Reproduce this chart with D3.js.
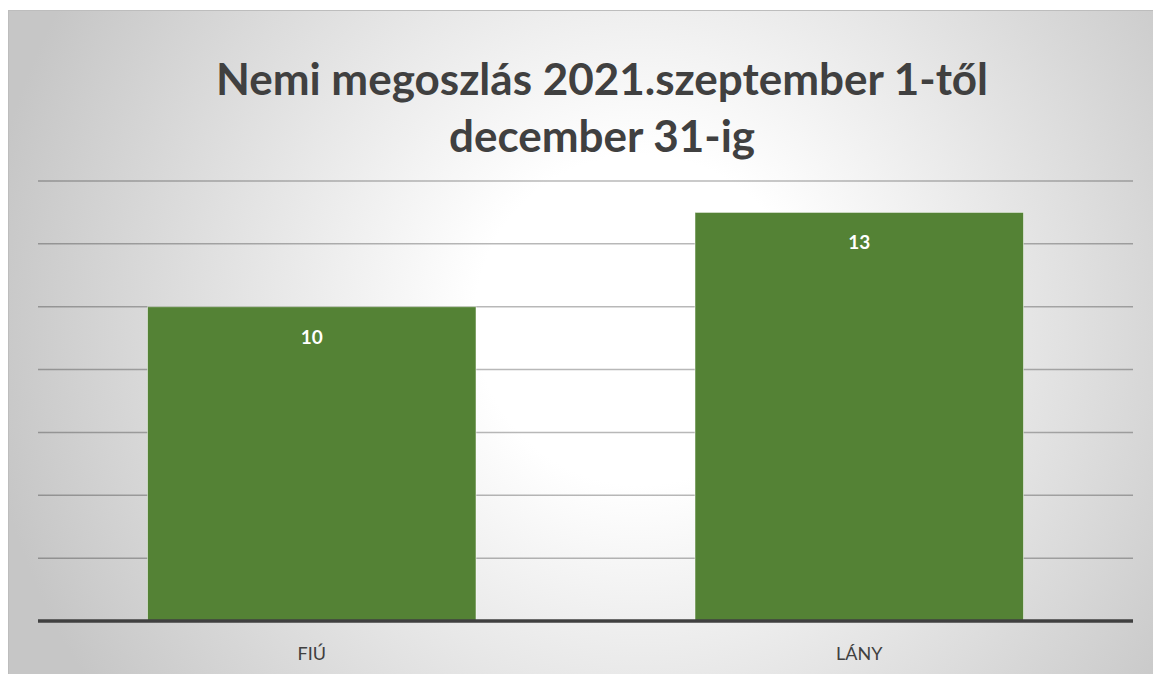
<!DOCTYPE html>
<html>
<head>
<meta charset="utf-8">
<script src="https://cdn.jsdelivr.net/npm/d3@7.9.0/dist/d3.min.js"></script>
<style>
  body { margin: 0; background: #fff; }
  svg { display: block; }
</style>
</head>
<body>
<svg id="chart" width="1153" height="674"></svg>
<script>
const categories = ['FIÚ', 'LÁNY'];
const values = [10, 13];
const yTicks = [0, 2, 4, 6, 8, 10, 12, 14];
const titleLines = ['Nemi megoszlás 2021.szeptember 1-től', 'december 31-ig'];

const W = 1153, H = 674;
const margin = { top: 181, right: 20, bottom: 53, left: 38 };
const plotRight = 1133;

const svg = d3.select('#chart');

let defs = svg.append('defs');
let grad = defs.append('radialGradient')
  .attr('id', 'bg')
  .attr('gradientUnits', 'userSpaceOnUse')
  .attr('cx', 640).attr('cy', 320).attr('r', 660);
grad.append('stop').attr('offset', '0%').attr('stop-color', '#ffffff');
grad.append('stop').attr('offset', '25%').attr('stop-color', '#ffffff');
grad.append('stop').attr('offset', '100%').attr('stop-color', '#c6c6c6');

svg.append('rect')
  .attr('x', 8.5).attr('y', 10.5)
  .attr('width', W - 8).attr('height', H - 10)
  .attr('fill', 'url(#bg)')
  .attr('stroke', '#bdbdbd');

let x = d3.scaleBand()
  .domain(categories)
  .range([margin.left, plotRight])
  .paddingInner(0.4)
  .paddingOuter(0.2);

let y = d3.scaleLinear()
  .domain([0, 14])
  .range([621, margin.top]);

// gridlines
svg.append('g')
  .selectAll('line')
  .data(yTicks.filter(d => d > 0))
  .join('line')
  .attr('x1', margin.left).attr('x2', plotRight)
  .attr('y1', d => y(d)).attr('y2', d => y(d))
  .attr('stroke', 'rgba(0,0,0,0.28)')
  .attr('stroke-width', 1.5);

// bars
svg.append('g')
  .selectAll('rect')
  .data(values)
  .join('rect')
  .attr('x', (d, i) => x(categories[i]))
  .attr('y', d => y(d))
  .attr('width', x.bandwidth())
  .attr('height', d => y(0) - y(d))
  .attr('fill', '#548235')
  .attr('stroke', 'rgba(255,255,255,0.5)')
  .attr('stroke-width', 1);

// value labels
svg.append('g')
  .selectAll('text')
  .data(values)
  .join('text')
  .attr('x', (d, i) => x(categories[i]) + x.bandwidth() / 2)
  .attr('y', d => y(d) + 37)
  .attr('text-anchor', 'middle')
  .attr('font-family', 'Lato, "Open Sans", sans-serif')
  .attr('font-weight', 'bold')
  .attr('font-size', 19)
  .attr('fill', '#ffffff')
  .text(d => d);

// baseline axis
svg.append('line')
  .attr('x1', margin.left).attr('x2', plotRight)
  .attr('y1', y(0)).attr('y2', y(0))
  .attr('stroke', '#404040')
  .attr('stroke-width', 3.5);

// category labels
svg.append('g')
  .selectAll('text')
  .data(categories)
  .join('text')
  .attr('x', d => x(d) + x.bandwidth() / 2)
  .attr('y', 660)
  .attr('text-anchor', 'middle')
  .attr('font-family', 'Lato, "Open Sans", sans-serif')
  .attr('font-size', 18)
  .attr('fill', '#404040')
  .text(d => d);

// title
svg.append('g')
  .selectAll('text')
  .data(titleLines)
  .join('text')
  .attr('x', 602)
  .attr('y', (d, i) => 95 + i * 57)
  .attr('text-anchor', 'middle')
  .attr('font-family', 'Lato, "Open Sans", sans-serif')
  .attr('font-weight', 'bold')
  .attr('font-size', 44)
  .attr('fill', '#404040')
  .text(d => d);
</script>
</body>
</html>
